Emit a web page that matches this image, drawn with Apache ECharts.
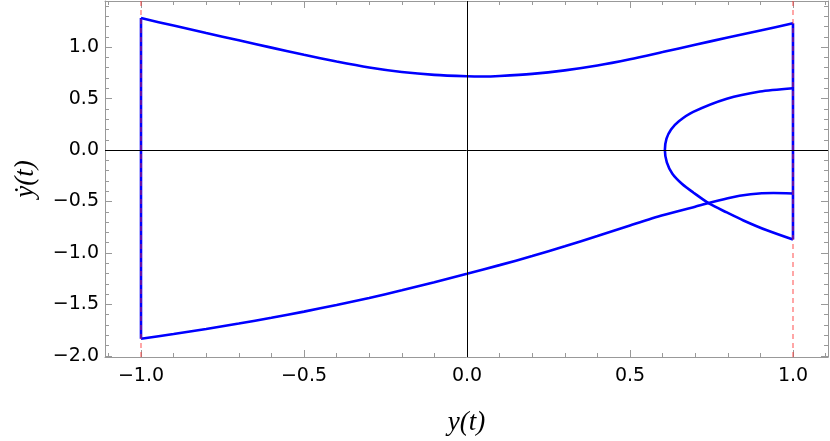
<!DOCTYPE html>
<html><head><meta charset="utf-8">
<script src="https://cdn.jsdelivr.net/npm/echarts@6/dist/echarts.min.js"></script>
<style>html,body{margin:0;padding:0;background:#fff}#c{width:830px;height:441px}</style>
</head><body><div id="c"></div>
<script>
// Axis ranges and ticks
const xRange = [-1.1104, 1.1074];
const yRange = [-2.0106, 1.448];
const xMajorTicks = [-1, -0.5, 0, 0.5, 1];
const xMinorTicks = [-1.1, -0.9, -0.8, -0.7, -0.6, -0.4, -0.3, -0.2, -0.1, 0.1, 0.2, 0.3, 0.4, 0.6, 0.7, 0.8, 0.9, 1.1];
const yMajorTicks = [-2, -1.5, -1, -0.5, 0, 0.5, 1];
const yMinorTicks = [-1.9, -1.8, -1.7, -1.6, -1.4, -1.3, -1.2, -1.1, -0.9, -0.8, -0.7, -0.6, -0.4, -0.3, -0.2, -0.1, 0.1, 0.2, 0.3, 0.4, 0.6, 0.7, 0.8, 0.9, 1.1, 1.2, 1.3, 1.4];
const xLabel = 'y(t)';
const yLabel = 'ẏ(t)';

// Trajectory pieces [y, ydot]
const upperBranch = [[-1, 1.282], [-0.9, 1.209], [-0.8, 1.137], [-0.7, 1.066], [-0.6, 0.995], [-0.5, 0.925], [-0.4, 0.860], [-0.3, 0.802], [-0.2, 0.758], [-0.1, 0.730], [0, 0.717], [0.05, 0.715], [0.1, 0.720], [0.2, 0.740], [0.3, 0.774], [0.4, 0.821], [0.5, 0.882], [0.6, 0.952], [0.7, 1.023], [0.8, 1.093], [0.9, 1.162], [1, 1.231]];
const rightWall = [[1, 1.231], [1, -0.870]];
const innerBranch = [[1, 0.601], [0.899, 0.569], [0.797, 0.499], [0.694, 0.371], [0.650, 0.280], [0.626, 0.200], [0.612, 0.110], [0.607, 0], [0.613, -0.120], [0.630, -0.230], [0.660, -0.330], [0.694, -0.412], [0.745, -0.524], [0.797, -0.606], [0.848, -0.684], [0.920, -0.780], [1, -0.870]];
const lowerBranch = [[-1, -1.834], [-0.9, -1.787], [-0.8, -1.738], [-0.7, -1.686], [-0.6, -1.630], [-0.5, -1.570], [-0.4, -1.505], [-0.3, -1.437], [-0.2, -1.363], [-0.1, -1.284], [0, -1.202], [0.1, -1.118], [0.2, -1.030], [0.3, -0.935], [0.4, -0.835], [0.5, -0.733], [0.6, -0.634], [0.7, -0.550], [0.8, -0.468], [0.87, -0.430], [0.94, -0.418], [1, -0.422]];
const leftWall = [[-1, -1.834], [-1, 1.282]];
const wallPositions = [-1, 1];

const frameColor = '#999999';
const fmt = v => (v < 0 ? '\u2212' + Math.abs(v).toFixed(1) : v.toFixed(1));
const tickFont = { fontFamily: 'DejaVu Sans', fontSize: 19, color: '#000' };

function xAx(pos, ticks, len, labels, line) {
  return {
    type: 'value', min: xRange[0], max: xRange[1], position: pos,
    axisLine: { show: line, onZero: false, lineStyle: { color: frameColor, width: 1 } },
    axisTick: { show: true, inside: true, length: len, customValues: ticks, lineStyle: { color: frameColor, width: 1 } },
    axisLabel: labels ? Object.assign({ show: true, customValues: ticks, formatter: fmt, margin: 10 }, tickFont) : { show: false },
    splitLine: { show: false }
  };
}
function yAx(pos, ticks, len, labels, line) {
  return {
    type: 'value', min: yRange[0], max: yRange[1], position: pos,
    axisLine: { show: line, onZero: false, lineStyle: { color: frameColor, width: 1 } },
    axisTick: { show: true, inside: true, length: len, customValues: ticks, lineStyle: { color: frameColor, width: 1 } },
    axisLabel: labels ? Object.assign({ show: true, customValues: ticks, formatter: fmt, margin: 6 }, tickFont) : { show: false },
    splitLine: { show: false }
  };
}

const xAxes = [
  xAx('bottom', xMajorTicks, 7, true, true),
  xAx('bottom', xMinorTicks, 4, false, false),
  xAx('top', xMajorTicks, 7, false, true),
  xAx('top', xMinorTicks, 4, false, false)
];
Object.assign(xAxes[0], { name: xLabel, nameLocation: 'middle', nameGap: 52, nameTextStyle: { fontFamily: 'Liberation Serif', fontStyle: 'italic', fontSize: 27, color: '#000' } });
const yAxes = [
  yAx('left', yMajorTicks, 7, true, true),
  yAx('left', yMinorTicks, 4, false, false),
  yAx('right', yMajorTicks, 7, false, true),
  yAx('right', yMinorTicks, 4, false, false)
];
Object.assign(yAxes[0], { name: yLabel, nameLocation: 'middle', nameGap: 66, nameRotate: 90, nameTextStyle: { fontFamily: 'Liberation Serif', fontStyle: 'italic', fontSize: 27, color: '#000' } });

const blue = { color: '#0000ff', width: 2.6 };
function curve(name, data, smooth) {
  return { name, type: 'line', data, xAxisIndex: 0, yAxisIndex: 0, showSymbol: false, symbol: 'none', smooth: smooth, lineStyle: blue, itemStyle: { color: '#0000ff' }, z: 3, silent: true };
}

const chart = echarts.init(document.getElementById('c'), null, { renderer: 'canvas' });
chart.setOption({
  animation: false,
  backgroundColor: '#fff',
  grid: { left: 105, right: 2, top: 1, bottom: 79, containLabel: false },
  xAxis: xAxes,
  yAxis: yAxes,
  series: [
    { type: 'line', data: [], xAxisIndex: 0, yAxisIndex: 0, z: 1, silent: true,
      markLine: { silent: true, symbol: 'none', label: { show: false }, animation: false,
        lineStyle: { color: '#000', width: 1, type: 'solid' },
        data: [{ xAxis: 0 }, { yAxis: 0 }] } },
    curve('upper', upperBranch, 0.25),
    curve('rightWall', rightWall, false),
    curve('inner', innerBranch, 0.25),
    curve('lower', lowerBranch, 0.25),
    curve('leftWall', leftWall, false),
    { type: 'line', data: [], xAxisIndex: 0, yAxisIndex: 0, z: 5, silent: true,
      markLine: { silent: true, symbol: 'none', label: { show: false }, animation: false,
        lineStyle: { color: 'rgba(255,40,40,0.55)', width: 1.5, type: [5, 4] },
        data: wallPositions.map(v => ({ xAxis: v })) } }
  ]
});
</script></body></html>
